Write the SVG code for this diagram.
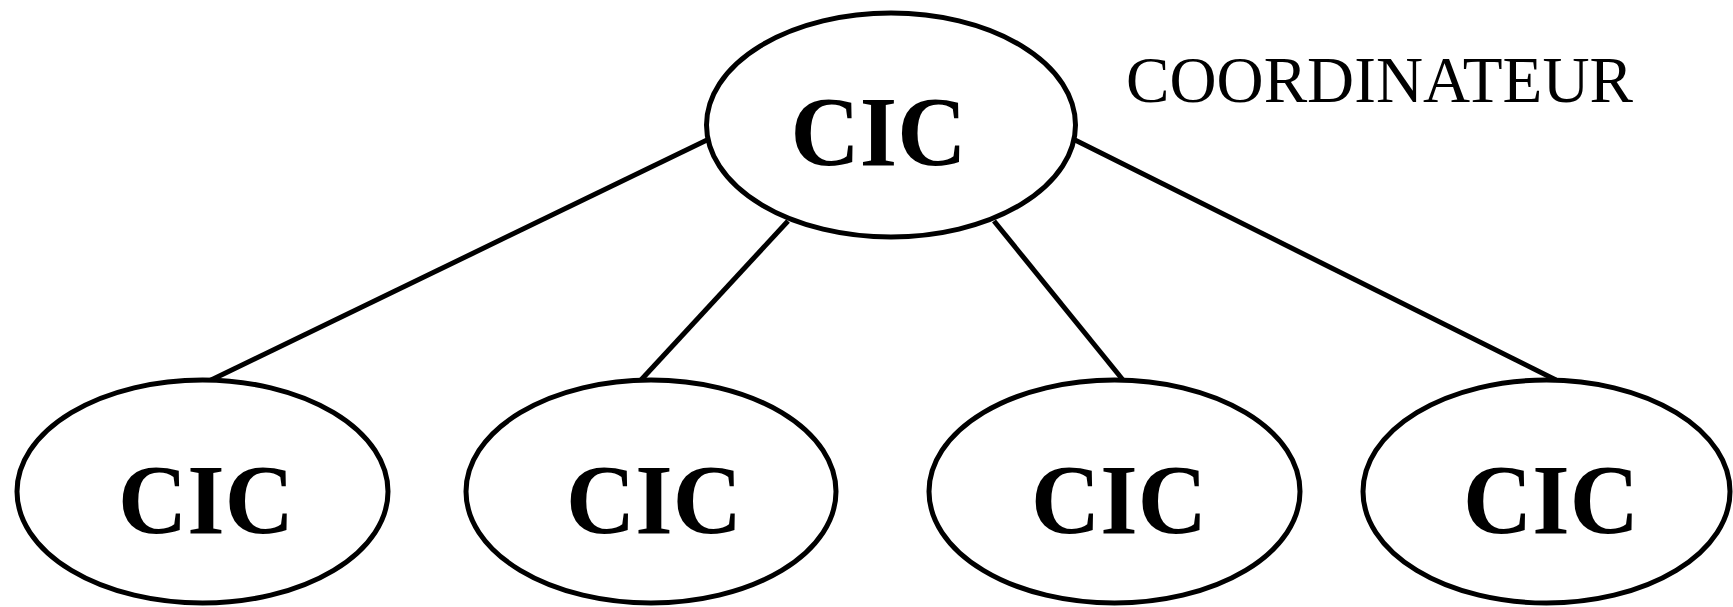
<svg xmlns="http://www.w3.org/2000/svg" width="1733" height="607" viewBox="0 0 1733 607">
<style>
.n{fill:#fff;stroke:#000;stroke-width:5}
.e{stroke:#000;stroke-width:5;fill:none}
.t{font-family:"Liberation Serif","Times New Roman",serif;font-weight:bold;font-size:100px;text-anchor:middle;fill:#000}
.c{font-family:"Liberation Serif","Times New Roman",serif;font-size:66px;fill:#000}
</style>
<rect width="1733" height="607" fill="#fff"/>
<g id="edges">
<line class="e" x1="707" y1="140" x2="209" y2="381"/>
<line class="e" x1="788" y1="221" x2="641" y2="380"/>
<line class="e" x1="994" y1="221" x2="1123" y2="380"/>
<line class="e" x1="1075" y1="140" x2="1556" y2="380"/>
</g>
<g id="top">
<ellipse class="n" cx="891" cy="125" rx="184.5" ry="112"/>
<text class="t" x="878.5" y="165" textLength="176" lengthAdjust="spacingAndGlyphs">CIC</text>
</g>
<g id="n1">
<ellipse class="n" cx="202.5" cy="491.5" rx="185.5" ry="111.5"/>
<text class="t" x="206" y="533" textLength="176" lengthAdjust="spacingAndGlyphs">CIC</text>
</g>
<g id="n2">
<ellipse class="n" cx="651" cy="491.5" rx="185" ry="111.5"/>
<text class="t" x="654" y="533" textLength="176" lengthAdjust="spacingAndGlyphs">CIC</text>
</g>
<g id="n3">
<ellipse class="n" cx="1114.5" cy="491.5" rx="185.5" ry="111.5"/>
<text class="t" x="1119" y="533" textLength="176" lengthAdjust="spacingAndGlyphs">CIC</text>
</g>
<g id="n4">
<ellipse class="n" cx="1546.5" cy="491.5" rx="183.5" ry="111.5"/>
<text class="t" x="1551" y="533" textLength="176" lengthAdjust="spacingAndGlyphs">CIC</text>
</g>
<g id="label">
<text class="c" x="1126" y="102" textLength="507" lengthAdjust="spacingAndGlyphs">COORDINATEUR</text>
</g>
</svg>
